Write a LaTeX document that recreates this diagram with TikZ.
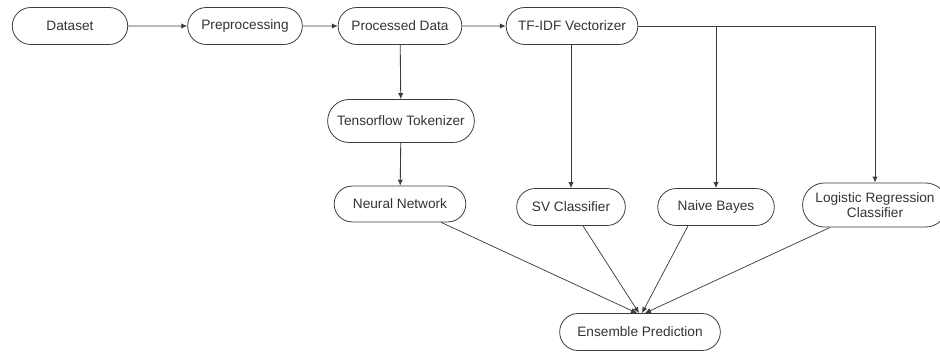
\documentclass[tikz,border=0pt]{standalone}
\usepackage{fontspec}
\setmainfont{Liberation Sans}
\usetikzlibrary{shapes.misc,arrows.meta}
\definecolor{linegray}{RGB}{60,60,60}
\tikzset{
	stage/.style = {rounded rectangle, draw=linegray, line width=0.6pt, align=center, inner sep=2pt, font=\fontsize{10.3}{11.5}\selectfont, text=black!80, minimum height=0.98cm},
	flow/.style = {draw=linegray, line width=0.65pt, -{Latex[length=4.5pt,width=4pt]}},
	merge/.style = {draw=linegray, line width=0.55pt, -{Latex[length=4.5pt,width=4pt]}}
}
\begin{document}
\begin{tikzpicture}[x=0.0265cm, y=-0.0265cm]
		\useasboundingbox (0,0) rectangle (940,352);
		% top row
		\node [stage, minimum width=3.2cm] (dataset) at (70,26) {Dataset};
		\node [stage, minimum width=3.18cm] (prep) at (245,26) {Preprocessing};
		\node [stage, minimum width=3.42cm] (procd) at (400,26) {Processed Data};
		\node [stage, minimum width=3.63cm] (tfidf) at (572,26) {TF-IDF Vectorizer};
		% neural network branch
		\node [stage, minimum width=4.03cm, minimum height=1.14cm] (tok) at (401,121) {Tensorflow Tokenizer};
		\node [stage, minimum width=3.63cm, minimum height=0.95cm] (nn) at (400,204) {Neural Network};
		% classifiers
		\node [stage, minimum width=3.02cm] (svc) at (571,207) {SV Classifier};
		\node [stage, minimum width=3.23cm] (nb) at (716,207) {Naive Bayes};
		\node [stage, minimum width=3.98cm, minimum height=1.17cm] (lr) at (875,205) {Logistic Regression\\Classifier};
		\node [stage, minimum width=4.4cm] (ens) at (640,332) {Ensemble Prediction};

		\draw [flow] (dataset) -- (prep);
		\draw [flow] (prep) -- (procd);
		\draw [flow] (procd) -- (tfidf);
		\draw [flow] (procd) -- (tok);
		\draw [flow] (tok) -- (nn);
		\draw [flow] (tfidf.south -| svc.north) -- (svc.north);
		\draw [flow] (tfidf.east) -| (nb.north);
		\draw [flow] (tfidf.east) -| (lr.north);

		\draw [merge] ([shift={(41,0)}]nn.south) -- ([shift={(-3,0)}]ens.north);
		\draw [merge] ([shift={(12,0)}]svc.south) -- ([shift={(-1,0)}]ens.north);
		\draw [merge] ([shift={(-28,0)}]nb.south) -- ([shift={(2,0)}]ens.north);
		\draw [merge] ([shift={(-45,0)}]lr.south) -- ([shift={(5,0)}]ens.north);
		\end{tikzpicture}
\end{document}
